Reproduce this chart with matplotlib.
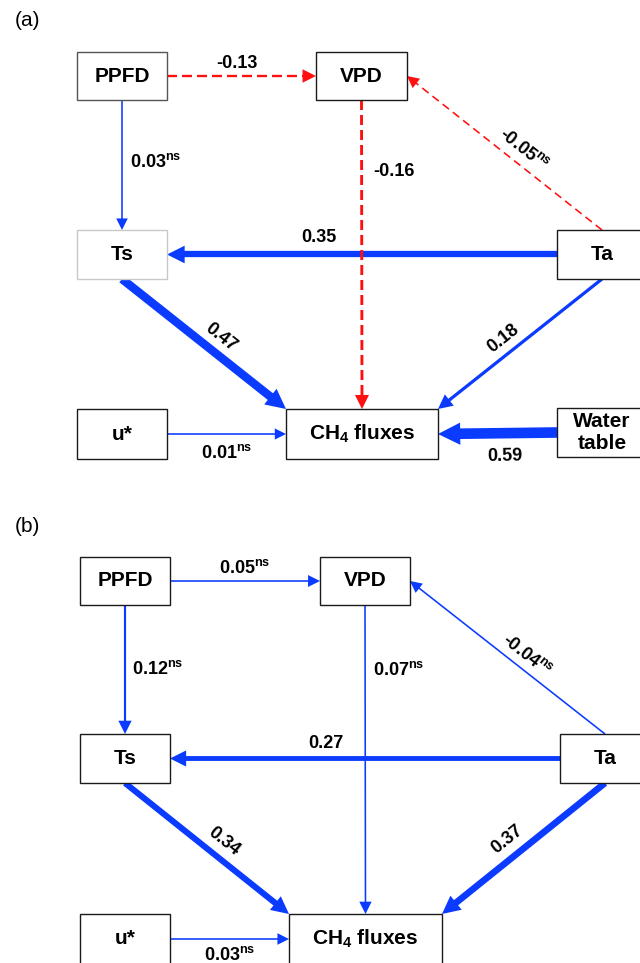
import numpy as np
import matplotlib
matplotlib.use('Agg')
import matplotlib.pyplot as plt
from matplotlib.patches import Rectangle, Polygon

plt.rcParams['font.family'] = ['Liberation Sans', 'DejaVu Sans']
plt.rcParams['mathtext.fontset'] = 'custom'
plt.rcParams['mathtext.rm'] = 'Liberation Sans'
plt.rcParams['mathtext.bf'] = 'Liberation Sans:bold'
plt.rcParams['mathtext.it'] = 'Liberation Sans:italic'
plt.rcParams['lines.scale_dashes'] = False

# ---------------- data ----------------
node_keys = ['PPFD', 'VPD', 'Ts', 'Ta', 'u*', 'CH4', 'WT']
node_labels = {'PPFD': 'PPFD', 'VPD': 'VPD', 'Ts': 'Ts', 'Ta': 'Ta', 'u*': 'u*',
               'CH4': r'CH$_\mathbf{4}$ fluxes', 'WT': 'Water\ntable'}

panel_a_src = ['PPFD', 'PPFD', 'VPD', 'Ta', 'Ta', 'Ts', 'Ta', 'u*', 'WT']
panel_a_dst = ['VPD', 'Ts', 'CH4', 'VPD', 'Ts', 'CH4', 'CH4', 'CH4', 'CH4']
panel_a_coef = [-0.13, 0.03, -0.16, -0.05, 0.35, 0.47, 0.18, 0.01, 0.59]
panel_a_sig = [True, False, True, False, True, True, True, False, True]
panel_a_neg = [True, False, True, True, False, False, False, False, False]

panel_b_src = ['PPFD', 'PPFD', 'VPD', 'Ta', 'Ta', 'Ts', 'Ta', 'u*']
panel_b_dst = ['VPD', 'Ts', 'CH4', 'VPD', 'Ts', 'CH4', 'CH4', 'CH4']
panel_b_coef = [0.05, 0.12, 0.07, -0.04, 0.27, 0.34, 0.37, 0.03]
panel_b_sig = [False, False, False, False, True, True, True, False]
panel_b_neg = [False, False, False, False, False, False, False, False]

# ---------------- layout (pixels) ----------------
boxes_a = {'PPFD': (77, 52, 167, 100), 'VPD': (316, 52, 407, 100),
           'Ts': (77, 230, 167, 279), 'Ta': (557, 230, 647, 279),
           'u*': (77, 409, 167, 459), 'CH4': (286, 409, 438, 459),
           'WT': (557, 408, 647, 457)}
boxes_b = {'PPFD': (80, 557, 170, 605), 'VPD': (320, 557, 410, 605),
           'Ts': (80, 734, 170, 783), 'Ta': (560, 734, 650, 783),
           'u*': (80, 914, 170, 964), 'CH4': (289, 914, 442, 964)}
box_edge_a = {'PPFD': '#555555', 'Ts': '#c8c8c8'}

anchors = [('r', 'l'), ('b', 't'), ('b', 't'), ('t', 'r'), ('l', 'r'),
           ('b', 'tl'), ('b', 'tr'), ('r', 'l'), ('l', 'r')]
# label placement: (fraction along edge, dx, dy, ha)
lab_a = [(0.47, 0, -13, 'center'), (0.48, 8, 0, 'left'), (0.23, 12, 0, 'left'),
         (0.40, 0, -19, 'center'), (0.61, 0, -17, 'center'), (0.60, 0, -20, 'center'),
         (0.60, 0, -18, 'center'), (0.50, 0, 19, 'center'), (0.44, 0, 23, 'center')]
lab_b = [(0.50, 0, -13, 'center'), (0.50, 7, 0, 'left'), (0.21, 8, 0, 'left'),
         (0.40, 0, -18, 'center'), (0.60, 0, -15, 'center'), (0.60, 0, -20, 'center'),
         (0.60, 0, -22, 'center'), (0.50, 0, 16, 'center')]

BLUE = '#0b3bff'
RED = '#ff1010'
PX = 0.72  # points per pixel at 100 dpi


def anchor_pt(box, a):
    x0, y0, x1, y1 = box
    xc, yc = (x0 + x1) / 2, (y0 + y1) / 2
    return {'l': (x0, yc), 'r': (x1, yc), 't': (xc, y0), 'b': (xc, y1),
            'tl': (x0, y0), 'tr': (x1, y0)}[a]


def draw_arrow(ax, p0, p1, coef, neg, sig):
    p0 = np.array(p0, float)
    p1 = np.array(p1, float)
    d = p1 - p0
    L = np.hypot(*d)
    u = d / L
    n = np.array([-u[1], u[0]])
    lw_px = max(1.6, 18 * abs(coef))
    hw = 11 + 19 * abs(coef)
    hl = hw
    base = p1 - u * hl
    le = p1 - u * hl * 0.8
    color = RED if neg else BLUE
    kw = dict(color=color, lw=lw_px * PX, solid_capstyle='butt', zorder=3 if neg else 2)
    if neg:
        on, off = (10, 5) if lw_px > 2 else (8, 5)
        kw['linestyle'] = (0, (on * PX, off * PX))
        kw['dash_capstyle'] = 'butt'
    ax.plot([p0[0], le[0]], [p0[1], le[1]], **kw)
    ax.add_patch(Polygon([p1, base + n * hw / 2, base - n * hw / 2], closed=True,
                         facecolor=color, edgecolor='none', zorder=kw['zorder']))


def draw_panel(ax, boxes, src, dst, coef, sig, neg, labs, edgecols):
    for k, b in boxes.items():
        x0, y0, x1, y1 = b
        ax.add_patch(Rectangle((x0, y0), x1 - x0, y1 - y0, facecolor='white',
                               edgecolor=edgecols.get(k, '#1a1a1a'), lw=1.0, zorder=4))
        ax.text((x0 + x1) / 2, (y0 + y1) / 2, node_labels[k], ha='center', va='center',
                fontsize=15, fontweight='bold', linespacing=1.15, zorder=5)
    for i in range(len(src)):
        p0 = anchor_pt(boxes[src[i]], anchors[i][0])
        p1 = anchor_pt(boxes[dst[i]], anchors[i][1])
        draw_arrow(ax, p0, p1, coef[i], neg[i], sig[i])
        t, dx, dy, ha = labs[i]
        lx = p0[0] + (p1[0] - p0[0]) * t + dx
        ly = p0[1] + (p1[1] - p0[1]) * t + dy
        txt = f'{coef[i]:.2f}'
        if not sig[i]:
            txt += r'$^{\mathbf{ns}}$'
        ddx, ddy = p1[0] - p0[0], p1[1] - p0[1]
        if abs(ddx) > 1 and abs(ddy) > 1:
            ang = np.degrees(np.arctan2(-ddy, ddx))
            if ang > 90:
                ang -= 180
            elif ang < -90:
                ang += 180
        else:
            ang = 0
        ax.text(lx, ly, txt, ha=ha, va='center', rotation=ang, rotation_mode='anchor',
                fontsize=13, fontweight='bold', zorder=6)


fig = plt.figure(figsize=(6.4, 9.63), dpi=100)
ax = fig.add_axes([0, 0, 1, 1])
ax.set_xlim(0, 640)
ax.set_ylim(963, 0)
ax.axis('off')

draw_panel(ax, boxes_a, panel_a_src, panel_a_dst, panel_a_coef, panel_a_sig,
           panel_a_neg, lab_a, box_edge_a)
draw_panel(ax, boxes_b, panel_b_src, panel_b_dst, panel_b_coef, panel_b_sig,
           panel_b_neg, lab_b, {})

ax.text(27, 20, '(a)', ha='center', va='center', fontsize=15)
ax.text(27, 527, '(b)', ha='center', va='center', fontsize=15)

fig.savefig('out.png', dpi=100)
